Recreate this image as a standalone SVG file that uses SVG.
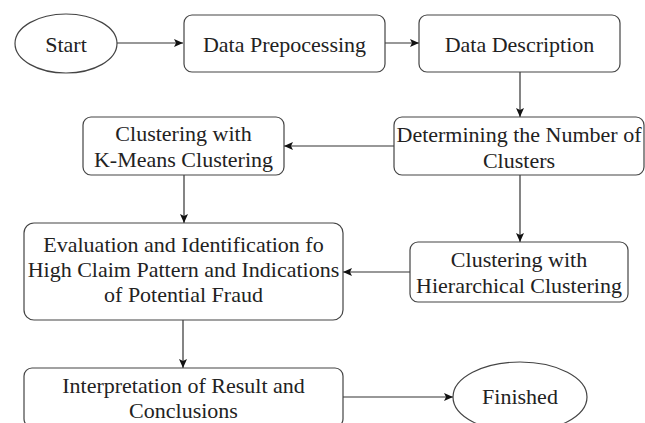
<svg xmlns="http://www.w3.org/2000/svg" width="645" height="423" viewBox="0 0 645 423">
<defs>
<style>
.box{fill:#fff;stroke:#444;stroke-width:1.2}
.t{font-family:"Liberation Serif","Times New Roman",serif;font-size:22px;fill:#222;text-anchor:middle}
.c{stroke:#333;stroke-width:1.2;fill:none;marker-end:url(#ah)}
</style>
<marker id="ah" markerUnits="userSpaceOnUse" markerWidth="10" markerHeight="8" refX="9" refY="4" orient="auto">
<path d="M0,0 L9,4 L0,8 L2,4 Z" fill="#111"/>
</marker>
</defs>
<rect width="645" height="423" fill="#fff"/>
<g id="connectors">
<line class="c" x1="117" y1="43" x2="183" y2="43"/>
<line class="c" x1="385" y1="43" x2="419" y2="43"/>
<line class="c" x1="520" y1="72" x2="520" y2="117"/>
<line class="c" x1="394" y1="146" x2="284" y2="146"/>
<line class="c" x1="184" y1="175" x2="184" y2="223"/>
<line class="c" x1="520" y1="175" x2="520" y2="242"/>
<line class="c" x1="410" y1="272" x2="343" y2="272"/>
<line class="c" x1="183" y1="320" x2="183" y2="368"/>
<line class="c" x1="343" y1="397" x2="453" y2="397"/>
</g>
<g id="start">
<ellipse class="box" cx="66" cy="43.5" rx="51" ry="29.5"/>
<text class="t" x="66" y="52">Start</text>
</g>
<g id="preprocessing">
<rect class="box" x="184" y="15" width="201" height="57" rx="8"/>
<text class="t" x="284.5" y="52">Data Prepocessing</text>
</g>
<g id="description">
<rect class="box" x="419" y="15" width="201" height="57" rx="8"/>
<text class="t" x="519.5" y="52">Data Description</text>
</g>
<g id="determining">
<rect class="box" x="394" y="117" width="250" height="58" rx="8"/>
<text class="t" x="519" y="142">Determining the Number of</text>
<text class="t" x="519" y="168">Clusters</text>
</g>
<g id="kmeans">
<rect class="box" x="83" y="117" width="201" height="58" rx="8"/>
<text class="t" x="183.5" y="141">Clustering with</text>
<text class="t" x="183.5" y="167">K-Means Clustering</text>
</g>
<g id="evaluation">
<rect class="box" x="24" y="223" width="319" height="97" rx="10"/>
<text class="t" x="183.5" y="252">Evaluation and Identification fo</text>
<text class="t" x="183.5" y="277">High Claim Pattern and Indications</text>
<text class="t" x="183.5" y="302">of Potential Fraud</text>
</g>
<g id="hierarchical">
<rect class="box" x="410" y="242" width="218" height="60" rx="8"/>
<text class="t" x="519" y="267">Clustering with</text>
<text class="t" x="519" y="293">Hierarchical Clustering</text>
</g>
<g id="interpretation">
<rect class="box" x="24" y="368" width="319" height="59" rx="8"/>
<text class="t" x="183.5" y="393">Interpretation of Result and</text>
<text class="t" x="183.5" y="418">Conclusions</text>
</g>
<g id="finished">
<ellipse class="box" cx="520" cy="397" rx="67" ry="35"/>
<text class="t" x="520" y="404">Finished</text>
</g>
</svg>
